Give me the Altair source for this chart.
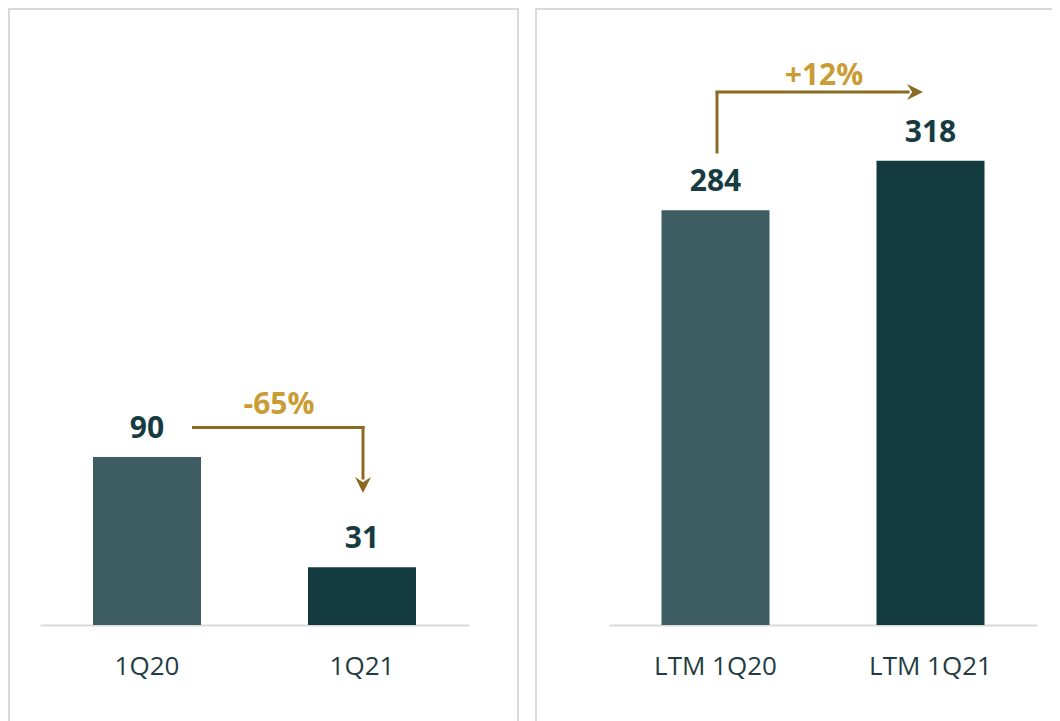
import altair as alt
import pandas as pd

# ---- data ----
left_cats = ["1Q20", "1Q21"]
left_vals = [90, 31]
left_change = ["-65%"]

right_cats = ["LTM 1Q20", "LTM 1Q21"]
right_vals = [284, 318]
right_change = ["+12%"]

bar_colors = ["#3e5d62", "#133a3f"]

FONT = "Open Sans"
LABEL_COLOR = "#163c42"
AXIS_COLOR = "#1f3d42"
GOLD_TEXT = "#c99c36"
ARROW = "#8b6a22"
GRID = "#d9d9d9"

VIEW_H = 730
BASE = 616          # baseline position inside the view (px from top)
STEP = 215
BAR_W = 108

ARROW_DOWN = "M -1 -1 L 0 1 L 1 -1 L 0 -0.35 Z"
ARROW_RIGHT = "M -1 -1 L 1 0 L -1 1 L -0.35 0 Z"


def panel(cats, vals, change, ymax, xr, width, arrow):
    L = xr[1] - xr[0]
    pi = 1 - BAR_W / STEP
    po = (L / STEP - 2 + pi) / 2
    df = pd.DataFrame({"cat": cats, "val": vals, "color": bar_colors})
    xscale = alt.Scale(range=xr, paddingInner=pi, paddingOuter=po)
    yscale = alt.Scale(domain=[0, ymax], range=[BASE, 0], nice=False, zero=True)
    x = alt.X(
        "cat:N", sort=cats, scale=xscale,
        axis=alt.Axis(
            title=None, labelAngle=0, ticks=False, tickSize=0,
            domain=True, domainColor=GRID, domainWidth=2,
            labelFont=FONT, labelFontSize=26, labelColor=AXIS_COLOR,
            labelBaseline="alphabetic", labelPadding=49,
            offset=BASE - VIEW_H, grid=False,
        ),
    )
    y = alt.Y("val:Q", scale=yscale, axis=None)
    bars = alt.Chart(df).mark_bar().encode(
        x=x, y=y, color=alt.Color("color:N", scale=None)
    )
    labels = alt.Chart(df).mark_text(
        font=FONT, fontSize=30, fontWeight="bold", color=LABEL_COLOR,
        baseline="alphabetic", align="center", dy=-19,
    ).encode(x=alt.X("cat:N", sort=cats), y="val:Q", text="val:Q")

    cdf = pd.DataFrame({"txt": change})
    layers = [bars, labels]
    for (xa, xb, ya, yb) in arrow["lines"]:
        enc = dict(x=alt.value(xa), y=alt.value(ya))
        if xb is not None:
            enc["x2"] = alt.value(xb)
        if yb is not None:
            enc["y2"] = alt.value(yb)
        layers.append(
            alt.Chart(cdf).mark_rule(color=ARROW, strokeWidth=3, strokeCap="square").encode(**enc)
        )
    hx, hy, shape = arrow["head"]
    layers.append(
        alt.Chart(cdf).mark_point(shape=shape, filled=True, size=256, color=ARROW,
                                  opacity=1, strokeWidth=0)
        .encode(x=alt.value(hx), y=alt.value(hy))
    )
    tx, ty = arrow["text"]
    layers.append(
        alt.Chart(cdf).mark_text(font=FONT, fontSize=30, fontWeight="bold",
                                 color=GOLD_TEXT, align="center", baseline="alphabetic")
        .encode(x=alt.value(tx), y=alt.value(ty), text="txt:N")
    )
    return alt.layer(*layers).properties(width=width, height=VIEW_H)


left = panel(
    left_cats, left_vals, left_change, 90 * BASE / 168, [31, 460], 509,
    {"lines": [(184.5, 354, 418.5, None), (354, None, 418.5, 469)],
     "head": (354, 476, ARROW_DOWN), "text": (270, 405)},
)
right = panel(
    right_cats, right_vals, right_change, BASE / 1.46, [73, 501], 540,
    {"lines": [(181, None, 143, 84), (181, 372, 83, None)],
     "head": (379, 83, ARROW_RIGHT), "text": (288, 76)},
)

chart = (
    alt.hconcat(left, right, spacing=16)
    .properties(padding={"left": 0, "top": 0, "right": -25, "bottom": 0})
    .configure_view(stroke=GRID, strokeWidth=2)
)

chart.save("out.html", embed_options={"renderer": "svg", "actions": False})
